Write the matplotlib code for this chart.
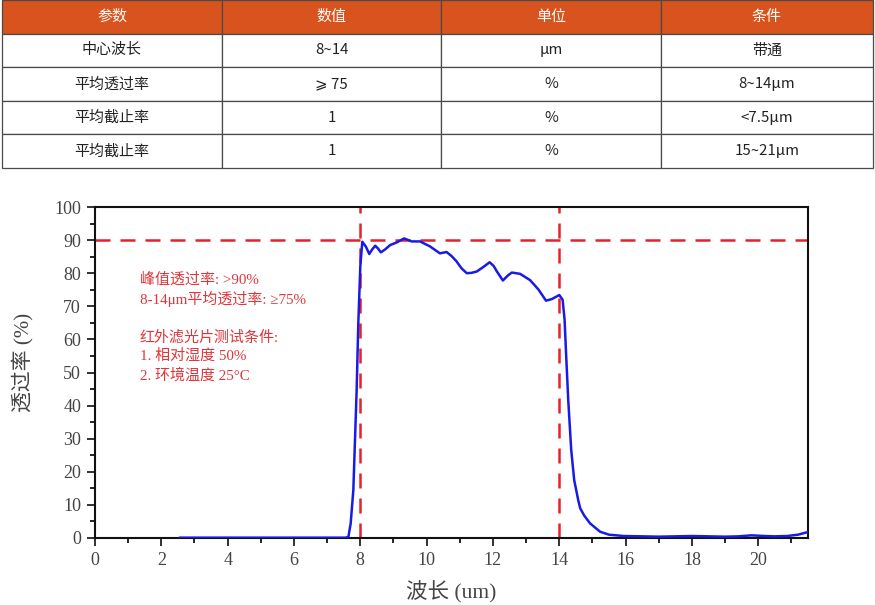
import matplotlib
matplotlib.use("Agg")
import matplotlib.pyplot as plt
from matplotlib.ticker import MultipleLocator

# ---------------- data ----------------
table_header = ["参数", "数值", "单位", "条件"]
table_rows = [
    ["中心波长", "8~14", "μm", "带通"],
    ["平均透过率", "⩾ 75", "%", "8~14μm"],
    ["平均截止率", "1", "%", "<7.5μm"],
    ["平均截止率", "1", "%", "15~21μm"],
]

wavelength = [2.55, 4.0, 6.0, 7.0, 7.55, 7.64, 7.71, 7.79, 7.84, 7.89, 7.94, 8.0, 8.06,
              8.17, 8.27, 8.36, 8.45, 8.53, 8.62, 8.75, 8.9, 9.1, 9.32, 9.45, 9.55, 9.8,
              10.1, 10.4, 10.6, 10.75, 10.9, 11.05, 11.21, 11.35, 11.51, 11.7, 11.9,
              12.02, 12.12, 12.3, 12.45, 12.57, 12.82, 13.12, 13.37, 13.6, 13.78, 14.0,
              14.1, 14.16, 14.2, 14.27, 14.36, 14.45, 14.57, 14.63, 14.75, 14.93, 15.23,
              15.5, 15.94, 16.5, 17.0, 17.5, 18.0, 18.5, 19.0, 19.4, 19.8, 20.2, 20.5,
              20.87, 21.2, 21.5]
transmittance = [0.1, 0.1, 0.1, 0.1, 0.1, 0.3, 4.4, 14.5, 29.6, 44.7, 64.9, 82.0, 89.5,
                 88.0, 85.8, 87.2, 88.3, 87.5, 86.3, 87.2, 88.5, 89.3, 90.5, 90.0, 89.6,
                 89.6, 88.1, 86.0, 86.4, 85.2, 83.6, 81.5, 80.0, 80.1, 80.5, 81.8, 83.3,
                 82.2, 80.5, 77.8, 79.3, 80.2, 79.8, 77.9, 75.1, 71.7, 72.2, 73.4,
                 72.0, 66.0, 56.8, 41.7, 26.6, 17.5, 11.5, 9.0, 6.8, 4.4, 1.9,
                 1.0, 0.6, 0.5, 0.4, 0.5, 0.6, 0.5, 0.4, 0.5, 0.8, 0.6, 0.5,
                 0.6, 1.0, 1.8]

peak_level = 90
band_edges = [8, 14]

annotation_lines = ["峰值透过率: >90%", "8-14μm平均透过率: ≥75%", "",
                    "红外滤光片测试条件:", "1. 相对湿度 50%", "2. 环境温度 25°C"]

xticks = [0, 2, 4, 6, 8, 10, 12, 14, 16, 18, 20]
yticks = [0, 10, 20, 30, 40, 50, 60, 70, 80, 90, 100]

# ---------------- figure ----------------
W, H = 875, 605
fig = plt.figure(figsize=(W / 100, H / 100), dpi=100)
fig.patch.set_facecolor("white")

cjk_sans = ["Noto Sans CJK SC", "DejaVu Sans"]
serif = ["Liberation Serif", "Noto Sans CJK SC", "DejaVu Sans"]

# ---- table ----
tax = fig.add_axes([2 / W, (H - 168) / H, 871 / W, 168 / H])
tax.axis("off")
col_w = [220, 219, 220, 212]
tot = sum(col_w)
tbl = tax.table(cellText=table_rows, colLabels=table_header, cellLoc="center",
                colWidths=[c / tot for c in col_w], bbox=[0, 0, 1, 1])
tbl.auto_set_font_size(False)
for (r, c), cell in tbl.get_celld().items():
    cell.set_edgecolor("#4a4a4a")
    cell.set_linewidth(0.9)
    txt = cell.get_text()
    txt.set_fontfamily(cjk_sans)
    txt.set_fontsize(10.8)
    if r == 0:
        cell.set_facecolor("#d9531e")
        txt.set_color("white")
    else:
        cell.set_facecolor("white")
        txt.set_color("#222222")

# ---- chart ----
ax = fig.add_axes([95 / W, (H - 538) / H, 713 / W, 331 / H])
ax.plot(wavelength, transmittance, color="#1a1ae6", lw=1.8, zorder=3,
        solid_joinstyle="round", solid_capstyle="round")
ax.axhline(peak_level, color="#e8202a", lw=1.8, ls=(0, (6, 4)), zorder=2)
for e in band_edges:
    ax.axvline(e, color="#e8202a", lw=1.8, ls=(0, (6, 4)), zorder=2)

ax.set_xlim(0, 21.5)
ax.set_ylim(0, 100)
ax.set_xticks(xticks)
ax.set_yticks(yticks)
ax.xaxis.set_minor_locator(MultipleLocator(1))
ax.yaxis.set_minor_locator(MultipleLocator(5))
ax.tick_params(which="major", direction="out", length=6, width=1.3,
               labelsize=13, colors="#222222", pad=4)
ax.tick_params(which="minor", direction="out", length=3.5, width=1.2)
ax.tick_params(top=False, right=False, which="both")
for lab in ax.get_xticklabels() + ax.get_yticklabels():
    lab.set_fontfamily(serif)
    lab.set_color("#444444")
for sp in ax.spines.values():
    sp.set_linewidth(1.5)
    sp.set_color("#111111")

ax.set_ylabel("透过率 (%)", fontsize=15, family=serif, color="#444444")
ax.yaxis.set_label_coords(-0.086, 0.53)
ax.set_xlabel("波长 (um)", fontsize=15.5, family=serif, color="#444444", labelpad=9)

for i, line in enumerate(annotation_lines):
    if not line:
        continue
    py = 280 + i * 19 if i < 2 else 337 + (i - 3) * 19
    ax.text(140 / W, 1 - py / H, line, transform=fig.transFigure,
            fontsize=10.8, family=serif, color="#e0353a", va="center", ha="left")

fig.savefig("out.png", dpi=100)
